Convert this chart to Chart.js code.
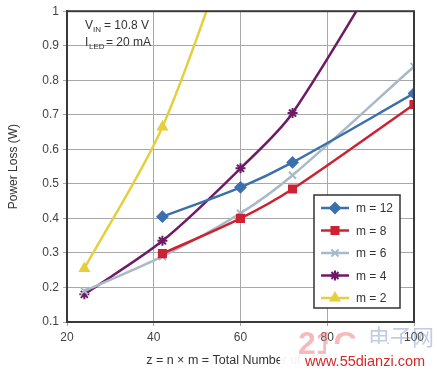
<!DOCTYPE html>
<html>
<head>
<meta charset="utf-8">
<script src="https://cdn.jsdelivr.net/npm/chart.js@4"></script>
<style>
  body { margin: 0; background: #fff; }
</style>
</head>
<body>
<canvas id="lossChart" width="438" height="372"></canvas>
<script>
// Data
const xTicks = [20, 40, 60, 80, 100];
const yTicks = [0.1, 0.2, 0.3, 0.4, 0.5, 0.6, 0.7, 0.8, 0.9, 1];
const seriesLabels = ["m = 12", "m = 8", "m = 6", "m = 4", "m = 2"];

const m12 = [{ x: 42, y: 0.405 }, { x: 60, y: 0.49 }, { x: 72, y: 0.562 }, { x: 100, y: 0.762 }];
const m8 = [{ x: 42, y: 0.298 }, { x: 60, y: 0.4 }, { x: 72, y: 0.485 }, { x: 100, y: 0.73 }];
const m6 = [{ x: 24, y: 0.19 }, { x: 42, y: 0.29 }, { x: 60, y: 0.415 }, { x: 72, y: 0.525 }, { x: 100, y: 0.84 }];
const m4 = [{ x: 24, y: 0.18 }, { x: 42, y: 0.335 }, { x: 60, y: 0.545 }, { x: 72, y: 0.705 }, { x: 100, y: 1.28 }];
const m2 = [{ x: 24, y: 0.255 }, { x: 42, y: 0.665 }, { x: 60, y: 1.28 }];

const colors = ["#3b6fae", "#cc2233", "#a9b9c6", "#6e1a66", "#e6cf3c"];
const markers = ["rectRot", "rect", "crossRot", "star", "triangle"];

// Frame, annotation text and legend box
const extrasPlugin = {
  id: "extras",
  afterDraw(chart) {
    const ctx = chart.ctx;
    const a = chart.chartArea;
    ctx.save();
    ctx.strokeStyle = "#3a3a3a";
    ctx.lineWidth = 2;
    ctx.strokeRect(a.left, a.top, a.right - a.left, a.bottom - a.top);

    // V_IN / I_LED note
    ctx.fillStyle = "#333";
    ctx.textBaseline = "alphabetic";
    ctx.font = "12px 'Liberation Sans', Arial, sans-serif";
    ctx.fillText("V", 85, 29);
    ctx.font = "8px 'Liberation Sans', Arial, sans-serif";
    ctx.fillText("IN", 93, 32);
    ctx.font = "12px 'Liberation Sans', Arial, sans-serif";
    ctx.fillText("= 10.8 V", 104, 29);
    ctx.fillText("I", 85, 46);
    ctx.font = "8px 'Liberation Sans', Arial, sans-serif";
    ctx.fillText("LED", 89, 49);
    ctx.font = "12px 'Liberation Sans', Arial, sans-serif";
    ctx.fillText("= 20 mA", 106, 46);

    // legend box
    const lx = 314, ly = 195, lw = 86, lh = 113;
    ctx.fillStyle = "#fff";
    ctx.fillRect(lx, ly, lw, lh);
    ctx.strokeStyle = "#333";
    ctx.lineWidth = 1.5;
    ctx.strokeRect(lx, ly, lw, lh);
    chart.data.datasets.forEach((ds, i) => {
      const cy = ly + 13 + i * 22.5;
      ctx.strokeStyle = ds.borderColor;
      ctx.fillStyle = ds.backgroundColor;
      ctx.lineWidth = 2.5;
      ctx.beginPath();
      ctx.moveTo(lx + 7, cy);
      ctx.lineTo(lx + 35, cy);
      ctx.stroke();
      ctx.lineWidth = 2;
      Chart.helpers.drawPoint(ctx, {
        pointStyle: ds.pointStyle,
        radius: 5,
        borderWidth: 2
      }, lx + 21, cy);
      ctx.fillStyle = "#333";
      ctx.font = "12px 'Liberation Sans', Arial, sans-serif";
      ctx.textBaseline = "middle";
      ctx.fillText(ds.label, lx + 42, cy + 1);
    });
    ctx.restore();
  },
};

// Site watermark over the bottom right corner
const watermarkPlugin = {
  id: "watermark",
  afterDraw(chart) {
    const ctx = chart.ctx;
    ctx.save();
    ctx.fillStyle = "rgba(255,255,255,0.93)";
    ctx.fillRect(280, 347, 50, 22);
    ctx.font = "bold 32px 'Liberation Sans', Arial, sans-serif";
    ctx.fillStyle = "rgba(235,120,120,0.5)";
    ctx.textBaseline = "alphabetic";
    ctx.fillText("21C", 298, 354);
    ctx.font = "22px 'Noto Sans CJK SC', sans-serif";
    ctx.fillStyle = "rgba(120,140,200,0.45)";
    ctx.fillText("电子网", 368, 345);
    ctx.fillStyle = "#fff";
    ctx.fillRect(326, 344, 78, 26);
    ctx.fillStyle = "#d42a2a";
    ctx.font = "14.5px 'Liberation Sans', Arial, sans-serif";
    ctx.fillText("www.55dianzi.com", 305, 366);
    ctx.restore();
  }
};

function dataset(label, data, i) {
  return {
    label: label,
    data: data,
    borderColor: colors[i],
    backgroundColor: colors[i],
    pointStyle: markers[i],
    pointRadius: 5,
    pointBorderWidth: 2,
    borderWidth: 2.5,
    tension: 0.3,
    fill: false,
  };
}

const ctx = document.getElementById("lossChart").getContext("2d");
new Chart(ctx, {
  type: "line",
  data: {
    datasets: [
      dataset(seriesLabels[0], m12, 0),
      dataset(seriesLabels[1], m8, 1),
      dataset(seriesLabels[2], m6, 2),
      dataset(seriesLabels[3], m4, 3),
      dataset(seriesLabels[4], m2, 4),
    ],
  },
  options: {
    responsive: false,
    animation: false,
    layout: { padding: { top: 8, right: 24, left: 2, bottom: 0 } },
    plugins: {
      legend: { display: false },
      tooltip: { enabled: false },
    },
    scales: {
      x: {
        type: "linear",
        min: 20,
        max: 100,
        afterBuildTicks: (scale) => { scale.ticks = xTicks.map((v) => ({ value: v })); },
        afterFit: (scale) => { scale.height = 50; },
        grid: { color: "#a8a8a8", tickLength: 4 },
        border: { color: "#3a3a3a", width: 2 },
        ticks: {
          color: "#444",
          padding: 4,
          font: { family: "'Liberation Sans', Arial, sans-serif", size: 12 },
        },
        title: {
          display: true,
          text: "z = n × m = Total Number of LEDs",
          color: "#333",
          padding: { top: 4 },
          font: { family: "'Liberation Sans', Arial, sans-serif", size: 12.5 },
        },
      },
      y: {
        min: 0.1,
        max: 1,
        afterBuildTicks: (scale) => { scale.ticks = yTicks.map((v) => ({ value: v })); },
        afterFit: (scale) => { scale.width = 65; },
        grid: { color: "#a8a8a8", tickLength: 4 },
        border: { color: "#3a3a3a", width: 2 },
        ticks: {
          color: "#444",
          padding: 4,
          callback: (v) => String(Math.round(v * 10) / 10),
          font: { family: "'Liberation Sans', Arial, sans-serif", size: 12 },
        },
        title: {
          display: true,
          text: "Power Loss (W)",
          color: "#333",
          padding: { bottom: 2 },
          font: { family: "'Liberation Sans', Arial, sans-serif", size: 12 },
        },
      },
    },
  },
  plugins: [extrasPlugin, watermarkPlugin],
});
</script>
</body>
</html>
